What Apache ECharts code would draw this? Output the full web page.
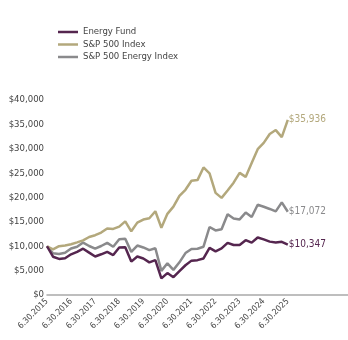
<!DOCTYPE html>
<html>
<head>
<meta charset="utf-8">
<script src="https://cdn.jsdelivr.net/npm/echarts@6/dist/echarts.min.js"></script>
<style>
html,body{margin:0;padding:0;background:#fff;}
#c{width:348px;height:340px;}
</style>
</head>
<body>
<div id="c"></div>
<script>
var quarters = [
 '6.30.2015','9.30.2015','12.31.2015','3.31.2016',
 '6.30.2016','9.30.2016','12.31.2016','3.31.2017',
 '6.30.2017','9.30.2017','12.31.2017','3.31.2018',
 '6.30.2018','9.30.2018','12.31.2018','3.31.2019',
 '6.30.2019','9.30.2019','12.31.2019','3.31.2020',
 '6.30.2020','9.30.2020','12.31.2020','3.31.2021',
 '6.30.2021','9.30.2021','12.31.2021','3.31.2022',
 '6.30.2022','9.30.2022','12.31.2022','3.31.2023',
 '6.30.2023','9.30.2023','12.31.2023','3.31.2024',
 '6.30.2024','9.30.2024','12.31.2024','3.31.2025',
 '6.30.2025'
];
var seriesNames = ['Energy Fund', 'S&P 500 Index', 'S&P 500 Energy Index'];
var energyFund = [
 10000, 7850, 7400, 7550, 8350, 8850, 9500, 8700, 7900, 8350,
 8850, 8200, 9750, 9800, 6850, 7900, 7500, 6700, 7150, 3400,
 4500, 3650, 4900, 6100, 7050, 7150, 7500, 9650, 8950, 9550,
 10700, 10250, 10250, 11250, 10750, 11800, 11400, 10950, 10750, 10900,
 10347
];
var sp500 = [
 10000, 9356, 10014, 10149, 10399, 10800, 11212, 11893, 12261, 12810,
 13660, 13556, 14021, 15102, 13060, 14843, 15481, 15744, 17172, 13806,
 16642, 18128, 20331, 21585, 23430, 23566, 26165, 24962, 20943, 19921,
 21427, 23034, 25047, 24228, 27060, 29918, 31198, 33036, 33832, 32387,
 35936
];
var spEnergy = [
 10000, 8550, 8400, 8650, 9550, 9900, 10750, 10050, 9500, 10050,
 10700, 9900, 11450, 11550, 8850, 10150, 9750, 9200, 9600, 4950,
 6500, 5150, 6700, 8600, 9450, 9500, 9900, 13950, 13250, 13500,
 16550, 15700, 15500, 16900, 16000, 18500, 18100, 17650, 17150, 19000,
 17072
];
var yTicks = [0, 5000, 10000, 15000, 20000, 25000, 30000, 35000, 40000];
var padCount = 10;

var cats = quarters.slice();
for (var i = 0; i < padCount; i++) cats.push('');

var FONT = "'Liberation Sans Narrow', 'DejaVu Sans Condensed', 'Open Sans', sans-serif";
var colors = ['#55264f', '#b3a87c', '#8a8a8c'];

function fmt(v) {
  return '$' + Math.round(v).toString().replace(/\B(?=(\d{3})+(?!\d))/g, ',');
}

var datasets = [energyFund, sp500, spEnergy];
var series = datasets.map(function (d, k) {
  return {
    name: seriesNames[k],
    type: 'line',
    data: d,
    symbol: 'none',
    smooth: false,
    z: 10 - k,
    lineStyle: { color: colors[k], width: 2.5 },
    itemStyle: { color: colors[k] },
    endLabel: {
      show: true,
      formatter: function (p) { return fmt(p.value); },
      color: colors[k],
      fontFamily: FONT,
      fontSize: 10,
      distance: 1
    }
  };
});

var chart = echarts.init(document.getElementById('c'), null, { renderer: 'canvas' });
chart.setOption({
  animation: false,
  color: colors,
  legend: {
    orient: 'vertical',
    left: 53,
    top: 21,
    itemWidth: 20,
    itemHeight: 2.5,
    itemGap: 0.5,
    icon: 'rect',
    data: seriesNames,
    textStyle: { color: '#444', fontFamily: FONT, fontSize: 9.5, lineHeight: 12, padding: [0, 0, 0, 0] }
  },
  grid: { left: 47, top: 100, width: 302.5, height: 195, containLabel: false },
  xAxis: {
    type: 'category',
    data: cats,
    boundaryGap: false,
    axisLine: { show: true, lineStyle: { color: '#a9a9a9', width: 1.5 } },
    axisTick: { show: false },
    splitLine: { show: false },
    axisLabel: {
      rotate: 45,
      interval: function (idx, val) { return val.indexOf('6.30') === 0; },
      color: '#444',
      fontFamily: FONT,
      fontSize: 8.5,
      margin: 5
    }
  },
  yAxis: {
    type: 'value',
    min: yTicks[0],
    max: yTicks[yTicks.length - 1],
    interval: yTicks[1] - yTicks[0],
    axisLine: { show: false },
    axisTick: { show: false },
    splitLine: { show: false },
    axisLabel: {
      formatter: fmt,
      color: '#444',
      fontFamily: FONT,
      fontSize: 9.5,
      margin: 3
    }
  },
  series: series
});
</script>
</body>
</html>
